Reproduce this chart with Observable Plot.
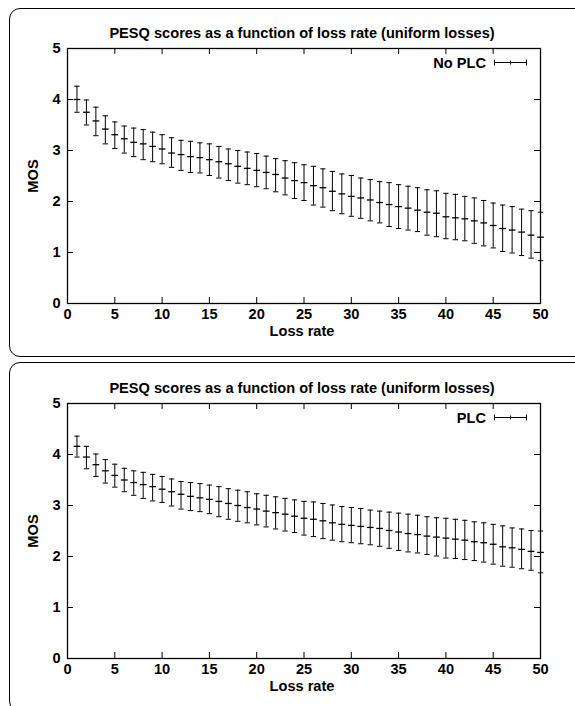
<!DOCTYPE html>
<html>
<head>
<meta charset="utf-8">
<script src="https://cdn.jsdelivr.net/npm/d3@7"></script>
<script src="https://cdn.jsdelivr.net/npm/@observablehq/plot@0.6"></script>
<style>
  html, body { margin: 0; padding: 0; background: #fff; }
  #page { position: relative; width: 575px; height: 706px; overflow: hidden; background: #fff; }
  .panel { position: absolute; border: 1px solid #000; border-radius: 11px; box-sizing: border-box; }
  .chart { position: absolute; left: 0; }
</style>
</head>
<body>
<div id="page">
  <div class="panel" style="left:9px; top:8px; width:620px; height:349px;"></div>
  <div class="panel" style="left:9px; top:362px; width:620px; height:350px;"></div>
  <div class="chart" id="c1" style="top:0px;"></div>
  <div class="chart" id="c2" style="top:355px;"></div>
</div>
<script>
// ---- data ----
const lossRates = [1,2,3,4,5,6,7,8,9,10,11,12,13,14,15,16,17,18,19,20,21,22,23,24,25,26,27,28,29,30,31,32,33,34,35,36,37,38,39,40,41,42,43,44,45,46,47,48,49,50];

const noPlcMean = [4.00,3.75,3.58,3.42,3.31,3.23,3.16,3.13,3.08,3.03,2.95,2.92,2.88,2.86,2.82,2.78,2.74,2.69,2.65,2.61,2.57,2.53,2.46,2.41,2.37,2.31,2.27,2.20,2.15,2.10,2.07,2.03,1.98,1.94,1.90,1.87,1.83,1.79,1.77,1.70,1.68,1.66,1.62,1.58,1.53,1.47,1.44,1.40,1.34,1.30];
const noPlcHigh = [4.26,3.99,3.85,3.68,3.56,3.48,3.44,3.41,3.36,3.31,3.25,3.20,3.18,3.15,3.13,3.08,3.03,3.00,2.97,2.94,2.89,2.84,2.80,2.76,2.72,2.69,2.64,2.59,2.54,2.51,2.46,2.43,2.39,2.37,2.33,2.30,2.27,2.23,2.21,2.16,2.14,2.10,2.07,2.02,1.97,1.93,1.90,1.85,1.82,1.79];
const noPlcLow  = [3.75,3.50,3.29,3.13,3.04,2.95,2.88,2.82,2.78,2.74,2.67,2.61,2.57,2.56,2.51,2.46,2.41,2.36,2.33,2.29,2.25,2.19,2.13,2.06,2.02,1.93,1.89,1.82,1.76,1.71,1.67,1.62,1.58,1.51,1.47,1.44,1.41,1.34,1.31,1.27,1.25,1.23,1.18,1.13,1.09,1.02,0.99,0.94,0.89,0.84];

const plcMean = [4.16,3.95,3.80,3.68,3.59,3.50,3.45,3.41,3.37,3.32,3.27,3.22,3.18,3.15,3.12,3.08,3.04,3.00,2.96,2.93,2.89,2.86,2.83,2.79,2.75,2.73,2.70,2.66,2.63,2.61,2.59,2.57,2.55,2.51,2.48,2.45,2.43,2.40,2.38,2.36,2.34,2.32,2.29,2.27,2.24,2.19,2.17,2.14,2.10,2.08];
const plcHigh = [4.36,4.16,4.01,3.90,3.81,3.73,3.68,3.65,3.61,3.57,3.52,3.47,3.45,3.43,3.40,3.37,3.33,3.30,3.27,3.23,3.20,3.17,3.14,3.11,3.08,3.07,3.04,3.01,2.98,2.96,2.94,2.91,2.89,2.87,2.85,2.83,2.81,2.78,2.76,2.75,2.73,2.71,2.68,2.66,2.63,2.60,2.56,2.54,2.51,2.50];
const plcLow  = [3.95,3.72,3.57,3.44,3.36,3.27,3.20,3.14,3.09,3.06,2.99,2.93,2.90,2.88,2.84,2.78,2.73,2.69,2.66,2.62,2.58,2.54,2.50,2.47,2.42,2.39,2.35,2.32,2.29,2.27,2.25,2.23,2.20,2.16,2.12,2.09,2.07,2.04,2.01,1.97,1.96,1.94,1.92,1.89,1.85,1.81,1.79,1.76,1.73,1.68];

const xTicks = [0,5,10,15,20,25,30,35,40,45,50];
const yTicks = [0,1,2,3,4,5];

const titleText = "PESQ scores as a function of loss rate (uniform losses)";
const xLabel = "Loss rate";
const yLabel = "MOS";
const seriesNames = ["No PLC", "PLC"];

// ---- drawing ----
const W = 575, H = 355;
const mL = 67, mR = 35, mT = 48, mB = 52;
const plotW = W - mL - mR, plotH = H - mT - mB;
const FONT = "'Liberation Sans', Arial, Helvetica, sans-serif";
const FS = 14.6;

// horizontal-line symbol for caps and centre marks
const hbar = { draw(ctx, size) { const r = Math.sqrt(size) / 2; ctx.moveTo(-r, 0); ctx.lineTo(r, 0); } };

function chart(mean, high, low, name) {
  const data = lossRates.map((x, i) => ({ x, m: mean[i], hi: high[i], lo: low[i] }));
  const svg = Plot.plot({
    width: W, height: H,
    marginLeft: mL, marginRight: mR, marginTop: mT, marginBottom: mB,
    style: { fontSize: FS + "px", fontWeight: "bold", fontFamily: FONT, color: "#000", background: "transparent", overflow: "visible" },
    x: { domain: [0, 50], label: null },
    y: { domain: [0, 5], label: null },
    marks: [
      Plot.tickY(yTicks, { y: d => d, insetRight: plotW - 6, stroke: "#000" }),
      Plot.tickY(yTicks, { y: d => d, insetLeft: plotW - 6, stroke: "#000" }),
      Plot.tickX(xTicks, { x: d => d, insetTop: plotH - 6, stroke: "#000" }),
      Plot.tickX(xTicks, { x: d => d, insetBottom: plotH - 6, stroke: "#000" }),
      Plot.axisX({ ticks: xTicks, tickSize: 0, tickPadding: 5, label: null, tickFormat: d => String(d), fontSize: FS, fontWeight: "bold", fill: "#000" }),
      Plot.axisY({ ticks: yTicks, tickSize: 0, tickPadding: 7, label: null, tickFormat: d => String(d), fontSize: FS, fontWeight: "bold", fill: "#000" }),
      Plot.ruleX(data, { x: "x", y1: "lo", y2: "hi", stroke: "#000", strokeWidth: 1 }),
      Plot.dot(data, { x: "x", y: "hi", symbol: hbar, r: 3, stroke: "#000", fill: "none", strokeWidth: 1 }),
      Plot.dot(data, { x: "x", y: "lo", symbol: hbar, r: 3, stroke: "#000", fill: "none", strokeWidth: 1 }),
      Plot.dot(data, { x: "x", y: "m", symbol: hbar, r: 3.8, stroke: "#000", fill: "none", strokeWidth: 1.3 }),
      Plot.frame({ stroke: "#000", strokeWidth: 1.3 })
    ]
  });
  const s = d3.select(svg);
  const txt = (x, y, t, anchor) => s.append("text").attr("x", x).attr("y", y)
    .attr("text-anchor", anchor).attr("fill", "#000")
    .style("font-family", FONT).style("font-weight", "bold").style("font-size", FS + "px").text(t);
  txt(302, 37.5, titleText, "middle");
  txt(302, 335.5, xLabel, "middle");
  s.append("text").attr("transform", "translate(37.5,176) rotate(-90)")
    .attr("text-anchor", "middle").attr("fill", "#000")
    .style("font-family", FONT).style("font-weight", "bold").style("font-size", FS + "px").text(yLabel);
  // legend
  txt(486, 67.5, name, "end");
  const g = s.append("g").attr("stroke", "#000").attr("stroke-width", 1);
  g.append("line").attr("x1", 494).attr("x2", 527).attr("y1", 62.5).attr("y2", 62.5);
  g.append("line").attr("x1", 494.5).attr("x2", 494.5).attr("y1", 59.5).attr("y2", 65.5);
  g.append("line").attr("x1", 526.5).attr("x2", 526.5).attr("y1", 59.5).attr("y2", 65.5);
  g.append("line").attr("x1", 510.5).attr("x2", 510.5).attr("y1", 60.5).attr("y2", 64.5);
  return svg;
}

document.getElementById("c1").appendChild(chart(noPlcMean, noPlcHigh, noPlcLow, seriesNames[0]));
document.getElementById("c2").appendChild(chart(plcMean, plcHigh, plcLow, seriesNames[1]));
</script>
</body>
</html>
